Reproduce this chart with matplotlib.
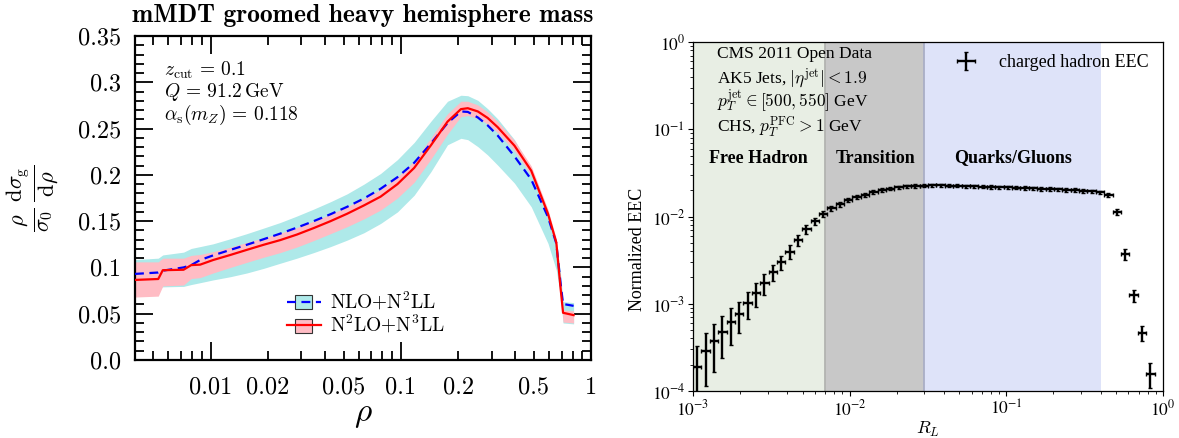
import matplotlib
matplotlib.use('Agg')
import matplotlib.pyplot as plt
import numpy as np
from matplotlib.patches import Patch, Rectangle
from matplotlib.lines import Line2D
from matplotlib.legend_handler import HandlerPatch
from matplotlib.ticker import FixedLocator, FuncFormatter, NullFormatter

plt.rcParams['mathtext.fontset'] = 'cm'
plt.rcParams['axes.unicode_minus'] = False
plt.rcParams['font.family'] = ['cmr10']

# ---------------- left panel data ----------------
rho = [0.004, 0.0053, 0.0056, 0.0072, 0.0079, 0.0088, 0.0103, 0.0127, 0.0155, 0.019,
       0.0232, 0.0284, 0.0348, 0.0427, 0.0522, 0.064, 0.0783, 0.096, 0.1175, 0.144,
       0.176, 0.207, 0.225, 0.254, 0.286, 0.323, 0.396, 0.485, 0.594, 0.657,
       0.69, 0.713, 0.81]
n3ll_central = [0.0865, 0.0875, 0.097, 0.0975, 0.1025, 0.103, 0.108, 0.1135, 0.119, 0.1245,
                0.1295, 0.1355, 0.1425, 0.150, 0.158, 0.167, 0.1765, 0.190, 0.2075, 0.232,
                0.2575, 0.271, 0.272, 0.2685, 0.2615, 0.2515, 0.2315, 0.2045, 0.158, 0.127,
                0.080, 0.051, 0.0485]
n3ll_high = [0.106, 0.106, 0.110, 0.110, 0.113, 0.114, 0.117, 0.122, 0.127, 0.132,
             0.137, 0.143, 0.150, 0.1575, 0.1655, 0.1745, 0.1840, 0.1975, 0.2150, 0.2400,
             0.2660, 0.2795, 0.2795, 0.2755, 0.2680, 0.2575, 0.2370, 0.2095, 0.1625, 0.1310,
             0.085, 0.054, 0.053]
n3ll_low = [0.068, 0.069, 0.080, 0.081, 0.088, 0.089, 0.094, 0.1000, 0.1055, 0.111,
            0.116, 0.122, 0.129, 0.1365, 0.144, 0.1525, 0.1620, 0.1750, 0.1920, 0.2170,
            0.2440, 0.2630, 0.2640, 0.2610, 0.2550, 0.2455, 0.2260, 0.1995, 0.1535, 0.1230,
            0.075, 0.041, 0.040]
n2ll_central = [0.093, 0.0945, 0.0965, 0.100, 0.1025, 0.108, 0.113, 0.119, 0.1245, 0.1305,
                0.1365, 0.143, 0.150, 0.1575, 0.1655, 0.1745, 0.185, 0.1975, 0.213, 0.234,
                0.256, 0.2685, 0.268, 0.262, 0.2535, 0.2425, 0.220, 0.195, 0.1545, 0.126,
                0.085, 0.0605, 0.0585]
n2ll_high = [0.1085, 0.110, 0.1135, 0.1165, 0.1205, 0.1225, 0.1255, 0.131, 0.1365, 0.1425,
             0.1485, 0.1555, 0.163, 0.171, 0.1795, 0.190, 0.2015, 0.2165, 0.235, 0.258,
             0.2795, 0.286, 0.2855, 0.2805, 0.2715, 0.2605, 0.238, 0.2065, 0.1565, 0.127,
             0.095, 0.063, 0.062]
n2ll_low = [0.078, 0.0785, 0.079, 0.0795, 0.0815, 0.0835, 0.0865, 0.090, 0.094, 0.099,
            0.1045, 0.110, 0.116, 0.1225, 0.1295, 0.1375, 0.1475, 0.160, 0.178, 0.2035,
            0.2325, 0.2395, 0.238, 0.2305, 0.2215, 0.2105, 0.191, 0.1655, 0.126, 0.097,
            0.070, 0.040, 0.039]
left_xtick_labels = {0.01: '0.01', 0.02: '0.02', 0.05: '0.05', 0.1: '0.1',
                     0.2: '0.2', 0.5: '0.5', 1.0: '1'}
left_yticks = [0.0, 0.05, 0.1, 0.15, 0.2, 0.25, 0.3, 0.35]
left_ytick_labels = ['0.0', '0.05', '0.1', '0.15', '0.2', '0.25', '0.3', '0.35']
legend_labels = ['NLO+N$^2$LL', 'N$^2$LO+N$^3$LL']

# ---------------- right panel data ----------------
eec_values = [1.9e-4, 2.9e-4, 3.75e-4, 4.8e-4, 6.2e-4, 7.6e-4, 1.02e-3, 1.32e-3, 1.72e-3, 2.3e-3,
              3.0e-3, 3.97e-3, 5.4e-3, 7.2e-3, 8.8e-3, 1.07e-2, 1.24e-2, 1.39e-2, 1.55e-2, 1.68e-2,
              1.78e-2, 1.9e-2, 2.0e-2, 2.09e-2, 2.16e-2, 2.21e-2, 2.24e-2, 2.26e-2, 2.27e-2, 2.27e-2,
              2.26e-2, 2.25e-2, 2.23e-2, 2.21e-2, 2.2e-2, 2.18e-2, 2.17e-2, 2.16e-2, 2.14e-2, 2.12e-2,
              2.1e-2, 2.08e-2, 2.06e-2, 2.04e-2, 2.02e-2, 2.0e-2, 1.97e-2, 1.94e-2, 1.89e-2, 1.78e-2,
              1.13e-2, 3.7e-3, 1.25e-3, 4.6e-4, 1.58e-4]
eec_errors = [1.4e-4, 1.75e-4, 2.1e-4, 2.4e-4, 2.85e-4, 3.0e-4, 3.5e-4, 4.0e-4, 4.5e-4, 4.8e-4,
              5.5e-4, 7.0e-4, 8.0e-4, 8.4e-4, 8.5e-4, 9.0e-4, 9.5e-4, 9.5e-4, 9.5e-4, 9.5e-4,
              9.5e-4, 9.5e-4, 9.5e-4, 9.5e-4, 9.5e-4, 9.5e-4, 9.5e-4, 9.5e-4, 9.5e-4, 9.5e-4,
              9.5e-4, 9.5e-4, 9.5e-4, 9.5e-4, 9.5e-4, 9.5e-4, 9.5e-4, 9.5e-4, 9.5e-4, 9.5e-4,
              9.5e-4, 9.5e-4, 9.5e-4, 9.5e-4, 9.5e-4, 9.5e-4, 9.5e-4, 9.5e-4, 9.5e-4, 9.5e-4,
              8.5e-4, 5.0e-4, 1.9e-4, 9.0e-5, 5.0e-5]
n_bins_full = 56          # log bins from 1e-3 to 1
region_edges = [1e-3, 0.007, 0.03, 0.4]
region_names = ['Free Hadron', 'Transition', 'Quarks/Gluons']
region_colors = ['#e8eee4', '#c8c8c8', '#dee3f9']
right_ticks = [1e-4, 1e-3, 1e-2, 1e-1, 1e0]
right_tick_labels = ['$10^{-4}$', '$10^{-3}$', '$10^{-2}$', '$10^{-1}$', '$10^{0}$']
info_lines = ['CMS 2011 Open Data',
              r'AK5 Jets, $|\eta^{\mathrm{jet}}| < 1.9$',
              r'$p_T^{\mathrm{jet}} \in [500, 550]$ GeV',
              r'CHS, $p_T^{\mathrm{PFC}} > 1$ GeV']

W, H = 1179, 438
fig = plt.figure(figsize=(W / 100, H / 100), dpi=100)
ax1 = fig.add_axes([135 / W, 1 - 360 / H, (591 - 135) / W, (360 - 36) / H])
ax2 = fig.add_axes([693 / W, 1 - 391 / H, (1163 - 693) / W, (391 - 42) / H])

# ======== left panel ========
cyan = '#aee9e9'
pink = '#ffbcc4'
ax1.fill_between(rho, n2ll_low, n2ll_high, color=cyan, lw=0, zorder=1)
ax1.fill_between(rho, n3ll_low, n3ll_high, color=pink, lw=0, zorder=2)
ax1.plot(rho, n2ll_central, color='blue', ls=(0, (4, 2.5)), lw=1.6, zorder=3)
ax1.plot(rho, n3ll_central, color='red', lw=1.6, zorder=4)
ax1.set_xscale('log')
ax1.set_xlim(0.004, 1.0)
ax1.set_ylim(0, 0.35)

major_x = [0.01, 0.1, 1.0]
minor_x = [m * 10.0 ** e for e in (-3, -2, -1) for m in range(2, 10) if m * 10.0 ** e >= 0.004]


def lab(x, pos):
    for k, v in left_xtick_labels.items():
        if abs(x - k) / k < 1e-6:
            return v
    return ''


ax1.xaxis.set_major_locator(FixedLocator(major_x))
ax1.xaxis.set_minor_locator(FixedLocator(minor_x))
ax1.xaxis.set_major_formatter(FuncFormatter(lab))
ax1.xaxis.set_minor_formatter(FuncFormatter(lab))
ax1.yaxis.set_major_locator(FixedLocator(left_yticks))
ax1.yaxis.set_minor_locator(FixedLocator([i / 100 for i in range(36)]))
ax1.set_yticklabels(left_ytick_labels)
ax1.tick_params(which='both', direction='in', top=True, right=True, labelsize=17.5,
                width=1.3, color='black')
ax1.tick_params(which='major', length=13, pad=12)
ax1.tick_params(which='minor', length=6.5, pad=12)
ax1.tick_params(axis='y', which='both', pad=10)
for s in ax1.spines.values():
    s.set_linewidth(1.6)

ax1.set_title('mMDT groomed heavy hemisphere mass', fontfamily='cmb10', fontsize=18.4, pad=10)
ax1.set_ylabel(r'$\frac{\rho}{\sigma_0}\,\frac{\mathrm{d}\sigma_{\mathrm{g}}}{\mathrm{d}\rho}$', fontsize=23)
ax1.yaxis.set_label_coords(-0.162, 0.5)
ax1.set_xlabel(r'$\rho$', fontsize=24)
ax1.xaxis.set_label_coords(0.5, -0.125)

for ytext, s in zip([0.8765, 0.8108, 0.7407],
                    [r'$z_{\mathrm{cut}} \,=\, 0.1$', r'$Q \,=\, 91.2\,\mathrm{GeV}$',
                     r'$\alpha_{\mathrm{s}}(m_Z) \,=\, 0.118$']):
    ax1.text(0.0636, ytext, s, transform=ax1.transAxes, fontsize=14, va='baseline', ha='left')


def small_rect(legend, orig_handle, xdescent, ydescent, width, height, fontsize):
    w = width * 0.5
    return Rectangle((-xdescent + (width - w) / 2, -ydescent - height * 0.05), w, height * 1.0)


h1 = (Patch(facecolor=cyan, edgecolor='#333333', lw=0.8),
      Line2D([], [], color='blue', ls=(0, (4, 2.5)), lw=1.6))
h2 = (Patch(facecolor=pink, edgecolor='#333333', lw=0.8),
      Line2D([], [], color='red', lw=1.6))
ax1.legend([h1, h2], legend_labels, loc='upper left', bbox_to_anchor=(0.333, 0.215),
           frameon=False, fontsize=14, handlelength=1.75, handletextpad=0.45,
           labelspacing=0.08, borderpad=0, borderaxespad=0,
           handler_map={Patch: HandlerPatch(patch_func=small_rect)})

# ======== right panel ========
serif = 'Liberation Serif'
edges = np.logspace(-3, 0, n_bins_full + 1)[:len(eec_values) + 1]
lo_e, hi_e = edges[:-1], edges[1:]
centers = np.sqrt(lo_e * hi_e)

for i in range(3):
    ax2.axvspan(region_edges[i], region_edges[i + 1], color=region_colors[i], lw=0, zorder=0)
ax2.axvline(region_edges[1], color='#b2b4b0', lw=1.3, zorder=0.5)
ax2.axvline(region_edges[2], color='#a9aec6', lw=1.3, zorder=0.5)

ax2.errorbar(centers, eec_values, xerr=[centers - lo_e, hi_e - centers], yerr=eec_errors,
             fmt='none', ecolor='black', elinewidth=1.7, capsize=1.3, capthick=1.0,
             label='charged hadron EEC', zorder=3)
ax2.set_xscale('log')
ax2.set_yscale('log')
ax2.set_xlim(1e-3, 1)
ax2.set_ylim(1e-4, 1)
ax2.set_xticks(right_ticks[1:])
ax2.set_xticklabels(right_tick_labels[1:], fontsize=12.5, math_fontfamily='stix')
ax2.set_yticks(right_ticks)
ax2.set_yticklabels(right_tick_labels, fontsize=12.5, math_fontfamily='stix')
ax2.xaxis.set_minor_formatter(NullFormatter())
ax2.yaxis.set_minor_formatter(NullFormatter())
ax2.tick_params(which='major', direction='out', length=3.5, width=0.8, pad=2)
ax2.tick_params(which='minor', direction='out', length=2, width=0.6)
for s in ax2.spines.values():
    s.set_linewidth(0.9)

ax2.set_ylabel('Normalized EEC', fontfamily=serif, fontsize=13)
ax2.yaxis.set_label_coords(-0.10, 0.407)
ax2.set_xlabel(r'$R_L$', fontsize=13, math_fontfamily='cm')
ax2.xaxis.set_label_coords(0.5, -0.082)

for ytext, s in zip([0.953, 0.883, 0.8146, 0.743], info_lines):
    ax2.text(0.0504, ytext, s, transform=ax2.transAxes, fontfamily=serif, fontsize=12.5,
             va='baseline', ha='left', math_fontfamily='cm')
for xt, s in zip([0.1383, 0.389, 0.681], region_names):
    ax2.text(xt, 0.6676, s, transform=ax2.transAxes, fontfamily=serif, fontsize=13,
             fontweight='bold', va='center', ha='center')

ax2.legend(loc='upper right', bbox_to_anchor=(0.985, 0.985), frameon=False,
           prop={'family': serif, 'size': 13}, handlelength=1.3, handletextpad=1.2,
           borderaxespad=0)

fig.savefig('out.png', dpi=100)
